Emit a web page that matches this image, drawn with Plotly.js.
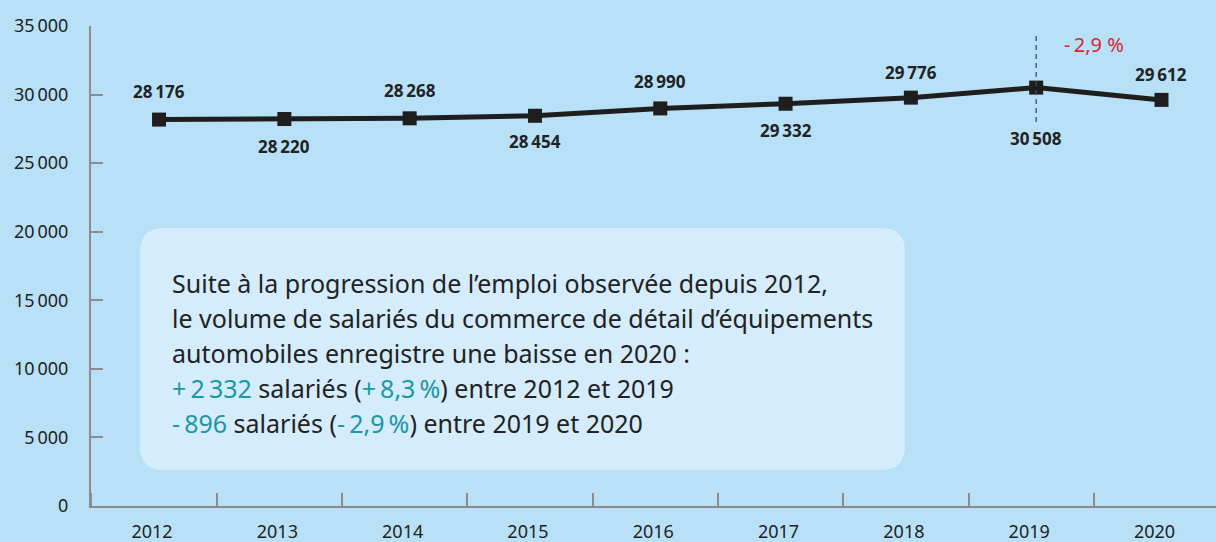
<!DOCTYPE html>
<html>
<head>
<meta charset="utf-8">
<script src="https://cdn.plot.ly/plotly-3.0.1.min.js"></script>
<style>
  html, body { margin: 0; padding: 0; background: #b8e1f8; }
  #chart { width: 1216px; height: 542px; }
</style>
</head>
<body>
<div id="chart"></div>
<script>
// Effectifs salariés, commerce de détail d'équipements automobiles
const annees = [2012, 2013, 2014, 2015, 2016, 2017, 2018, 2019, 2020];
const salaries = [28176, 28220, 28268, 28454, 28990, 29332, 29776, 30508, 29612];
const yTicks = [0, 5000, 10000, 15000, 20000, 25000, 30000, 35000];

// décalage vertical des étiquettes (px) : positif au-dessus, négatif en dessous
const decalageEtiquette = [28, -28, 28, -26, 27, -27, 25, -51, 25];

const texteEncadre = [
  'Suite à la progression de l’emploi observée depuis 2012,',
  'le volume de salariés du commerce de détail d’équipements',
  'automobiles enregistre une baisse en 2020 :',
  '<span style="color:#1b97a6">+\u202f2\u202f332</span> salariés (<span style="color:#1b97a6">+\u202f8,3\u202f%</span>) entre 2012 et 2019',
  '<span style="color:#1b97a6">-\u202f896</span> salariés (<span style="color:#1b97a6">-\u202f2,9\u202f%</span>) entre 2019 et 2020'
];

const fond = '#b8e1f8';
const gris = '#8c8c8c';
const police = 'Noto Sans, Open Sans, sans-serif';

const trace = {
  type: 'scatter',
  mode: 'lines+markers',
  x: annees,
  y: salaries,
  line: { color: '#1e1e1e', width: 5 },
  marker: { symbol: 'square', size: 14, color: '#1e1e1e' },
  hoverinfo: 'x+y'
};

// étiquettes de valeurs, alternées au-dessus / en dessous
const etiquettes = annees.map((a, i) => ({
  x: a,
  y: salaries[i],
  xref: 'x',
  yref: 'y',
  text: salaries[i].toLocaleString('fr-FR').replace(/\s/g, '\u202f'),
  showarrow: false,
  yanchor: 'middle',
  yshift: decalageEtiquette[i],
  font: { family: police, size: 17, color: '#222', weight: 'bold' }
}));

const lignesEncadre = texteEncadre.map((t, i) => ({
  xref: 'paper',
  yref: 'paper',
  x: (170 - 91) / 1125,
  y: (506 - (283 + i * 35)) / 480,
  xanchor: 'left',
  yanchor: 'middle',
  text: t,
  showarrow: false,
  align: 'left',
  font: { family: police, size: 25, color: '#222' }
}));

// encadré arrondi (coordonnées papier)
const x0 = (140 - 91) / 1125, x1 = (905 - 91) / 1125;
const y0 = (506 - 470) / 480, y1 = (506 - 228) / 480;
const rx = 24 / 1125, ry = 24 / 480;
const cheminEncadre =
  `M ${x0 + rx},${y1} L ${x1 - rx},${y1} Q ${x1},${y1} ${x1},${y1 - ry} ` +
  `L ${x1},${y0 + ry} Q ${x1},${y0} ${x1 - rx},${y0} ` +
  `L ${x0 + rx},${y0} Q ${x0},${y0} ${x0},${y0 + ry} ` +
  `L ${x0},${y1 - ry} Q ${x0},${y1} ${x0 + rx},${y1} Z`;

const layout = {
  width: 1216,
  height: 542,
  paper_bgcolor: fond,
  plot_bgcolor: fond,
  margin: { l: 91, r: 0, t: 26, b: 36 },
  showlegend: false,
  separators: ',\u202f',
  font: { family: police, color: '#222' },
  xaxis: {
    range: [2011.457, 2020.435],
    tickvals: annees,
    ticks: '',
    showgrid: false,
    zeroline: false,
    showline: true,
    linecolor: gris,
    linewidth: 2,
    minor: {
      tick0: 2012.46,
      dtick: 1,
      ticks: 'inside',
      ticklen: 13,
      tickwidth: 2,
      tickcolor: gris,
      showgrid: false
    },
    tickfont: { family: police, size: 18, color: '#222' },
    ticklabelstandoff: 8,
    ticklabelshift: -7,
    fixedrange: true
  },
  yaxis: {
    range: [0, 35000],
    tickvals: yTicks,
    tickformat: ',d',
    showgrid: false,
    zeroline: false,
    showline: true,
    linecolor: gris,
    linewidth: 2,
    ticks: 'inside',
    ticklen: 12,
    tickwidth: 2,
    tickcolor: gris,
    tickfont: { family: police, size: 18, color: '#222' },
    ticklabelstandoff: 17,
    fixedrange: true
  },
  shapes: [
    {
      type: 'path',
      xref: 'paper',
      yref: 'paper',
      path: cheminEncadre,
      fillcolor: '#d4ecfb',
      line: { width: 0 },
      layer: 'below'
    },
    {
      type: 'line',
      xref: 'x',
      yref: 'y',
      x0: 2019, x1: 2019,
      y0: 28000, y1: 34560,
      line: { color: '#3c4a78', width: 1.3, dash: '5px,4px' },
      layer: 'above'
    }
  ],
  annotations: etiquettes.concat(lignesEncadre, [
    {
      xref: 'x',
      yref: 'paper',
      x: 2019,
      xshift: 58,
      y: (506 - 45) / 480,
      yanchor: 'middle',
      text: '-\u202f2,9 %',
      showarrow: false,
      font: { family: police, size: 20, color: '#d7262d' }
    }
  ])
};

Plotly.newPlot('chart', [trace], layout, { displayModeBar: false, staticPlot: true });
</script>
</body>
</html>
